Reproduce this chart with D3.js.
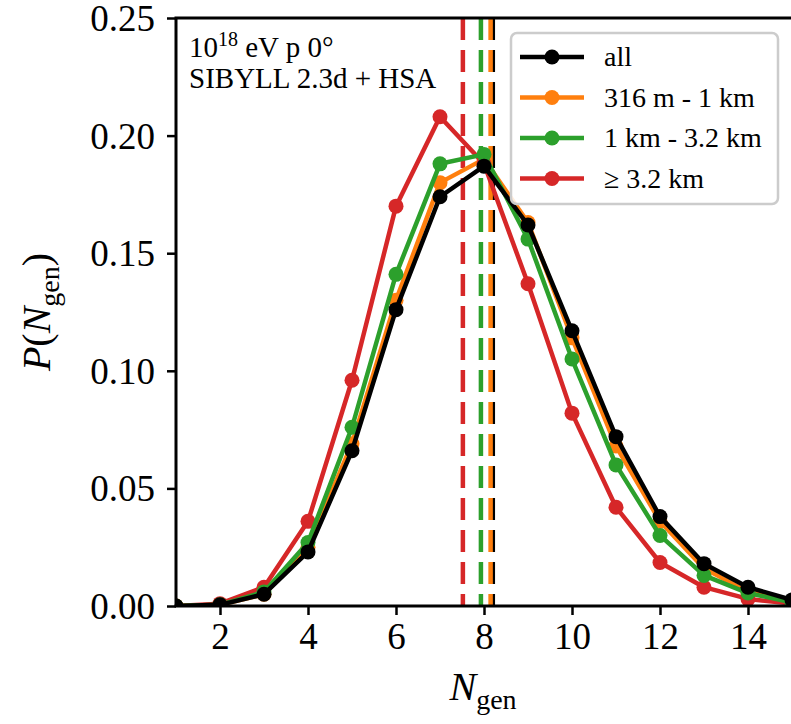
<!DOCTYPE html>
<html>
<head>
<meta charset="utf-8">
<script src="https://cdn.jsdelivr.net/npm/d3@7"></script>
<style>
  body { margin: 0; background: #fff; }
  svg text { font-family: 'Liberation Serif', 'Times New Roman', Times, 'DejaVu Serif', serif; }
</style>
</head>
<body>
<svg id="vis" width="791" height="724"></svg>
<script>
// Data
var nGen = [1, 2, 3, 4, 5, 6, 7, 8, 9, 10, 11, 12, 13, 14, 15];
var pAll    = [0, 0.0005, 0.005, 0.023, 0.066, 0.126, 0.174, 0.187, 0.162, 0.117, 0.072, 0.038, 0.018, 0.008, 0.0026];
var pShort  = [0, 0.0005, 0.005, 0.025, 0.069, 0.130, 0.180, 0.190, 0.163, 0.114, 0.068, 0.036, 0.016, 0.006, 0.002];
var pMid    = [0, 0.0005, 0.006, 0.027, 0.076, 0.141, 0.188, 0.192, 0.156, 0.105, 0.060, 0.030, 0.013, 0.0055, 0.0015];
var pLong   = [0, 0.001, 0.008, 0.036, 0.096, 0.170, 0.208, 0.188, 0.137, 0.082, 0.042, 0.0185, 0.008, 0.003, 0.001];
var seriesNames = ['all', '316 m - 1 km', '1 km - 3.2 km', '\u2265 3.2 km'];
var seriesColors = ['#000000', '#ff7f0e', '#2ca02c', '#d62728'];
var seriesMeans = [8.2, 8.15, 7.93, 7.52];
var xTicks = [2, 4, 6, 8, 10, 12, 14];
var yTicks = [0, 0.05, 0.10, 0.15, 0.20, 0.25];

var series = [pAll, pShort, pMid, pLong].map(function(v, i) {
  return {name: seriesNames[i], color: seriesColors[i], mean: seriesMeans[i],
          points: nGen.map(function(n, j) { return {x: n, y: v[j]}; })};
});

var margin = {top: 18, left: 176};
var width = 616, height = 588;

var svg = d3.select('#vis');
var g = svg.append('g').attr('transform', 'translate(' + margin.left + ',' + margin.top + ')');

var x = d3.scaleLinear().domain([1, 15]).range([0, width]);
var y = d3.scaleLinear().domain([0, 0.25]).range([height, 0]);

g.append('clipPath').attr('id', 'clip')
  .append('rect').attr('x', 0).attr('y', 0).attr('width', width).attr('height', height);

var plot = g.append('g').attr('clip-path', 'url(#clip)');

// Mean lines (dashed)
series.forEach(function(s) {
  plot.append('line')
    .attr('x1', x(s.mean)).attr('x2', x(s.mean))
    .attr('y1', 0).attr('y2', height)
    .attr('stroke', s.color)
    .attr('stroke-width', 4.5)
    .attr('stroke-dasharray', '22 10');
});

var line = d3.line()
  .x(function(d) { return x(d.x); })
  .y(function(d) { return y(d.y); });

// draw order: orange, red, green, black on top
[1, 3, 2, 0].forEach(function(i) {
  var s = series[i];
  plot.append('path')
    .datum(s.points)
    .attr('fill', 'none')
    .attr('stroke', s.color)
    .attr('stroke-width', 4.5)
    .attr('stroke-linejoin', 'round')
    .attr('d', line);
  plot.selectAll('circle.s' + i)
    .data(s.points)
    .enter().append('circle')
    .attr('class', 's' + i)
    .attr('cx', function(d) { return x(d.x); })
    .attr('cy', function(d) { return y(d.y); })
    .attr('r', 7.5)
    .attr('fill', s.color);
});

// Axes
var xAxis = g.append('g')
  .attr('transform', 'translate(0,' + height + ')')
  .call(d3.axisBottom(x).tickValues(xTicks).tickSize(9).tickPadding(8).tickFormat(d3.format('d')));
var yAxis = g.append('g')
  .call(d3.axisLeft(y).tickValues(yTicks).tickSize(9).tickPadding(12).tickFormat(d3.format('.2f')));

[xAxis, yAxis].forEach(function(a) {
  a.attr('font-family', null);
  a.select('.domain').remove();
  a.selectAll('line').attr('stroke', '#000').attr('stroke-width', 2.5);
  a.selectAll('text').attr('fill', '#000').style('font-size', '37px');
});
yAxis.selectAll('text').attr('dy', '0.34em');

// Spines
g.append('line').attr('x1', 0).attr('x2', 0).attr('y1', 0).attr('y2', height)
  .attr('stroke', '#000').attr('stroke-width', 3);
g.append('line').attr('x1', -1.5).attr('x2', width).attr('y1', height).attr('y2', height)
  .attr('stroke', '#000').attr('stroke-width', 3);
g.append('line').attr('x1', -1.5).attr('x2', width).attr('y1', 0).attr('y2', 0)
  .attr('stroke', '#000').attr('stroke-width', 3);

// Axis labels
var xl = svg.append('text')
  .attr('x', 483).attr('y', 700)
  .attr('text-anchor', 'middle')
  .style('font-size', '40px');
xl.append('tspan').style('font-style', 'italic').text('N');
xl.append('tspan').attr('dy', 9).style('font-size', '28px').text('gen');

var yl = svg.append('text')
  .attr('transform', 'translate(50,312) rotate(-90)')
  .attr('text-anchor', 'middle')
  .style('font-size', '40px');
yl.append('tspan').style('font-style', 'italic').text('P');
yl.append('tspan').text('(');
yl.append('tspan').style('font-style', 'italic').text('N');
yl.append('tspan').attr('dy', 9).style('font-size', '28px').text('gen');
yl.append('tspan').attr('dy', -9).text(')');

// Annotation
var ann1 = svg.append('text').attr('x', 189).attr('y', 57).style('font-size', '29px');
ann1.append('tspan').text('10');
ann1.append('tspan').attr('dy', -11).style('font-size', '20px').text('18');
ann1.append('tspan').attr('dy', 11).text(' eV p 0\u00b0');
svg.append('text').attr('x', 189).attr('y', 88).style('font-size', '29px').text('SIBYLL 2.3d + HSA');

// Legend
var legend = svg.append('g').attr('transform', 'translate(511,33)');
legend.append('rect')
  .attr('width', 267).attr('height', 171)
  .attr('rx', 6).attr('ry', 6)
  .attr('fill', '#fff').attr('fill-opacity', 0.85)
  .attr('stroke', '#cccccc').attr('stroke-width', 2.5);
var rows = legend.selectAll('g.row')
  .data(series)
  .enter().append('g')
  .attr('class', 'row')
  .attr('transform', function(d, i) { return 'translate(0,' + (24 + i * 40.5) + ')'; });
rows.append('line')
  .attr('x1', 9).attr('x2', 73)
  .attr('stroke', function(d) { return d.color; })
  .attr('stroke-width', 4.5);
rows.append('circle')
  .attr('cx', 41).attr('r', 7.5)
  .attr('fill', function(d) { return d.color; });
rows.append('text')
  .attr('x', 93).attr('dy', '0.33em')
  .style('font-size', '28px')
  .text(function(d) { return d.name; });
</script>
</body>
</html>
